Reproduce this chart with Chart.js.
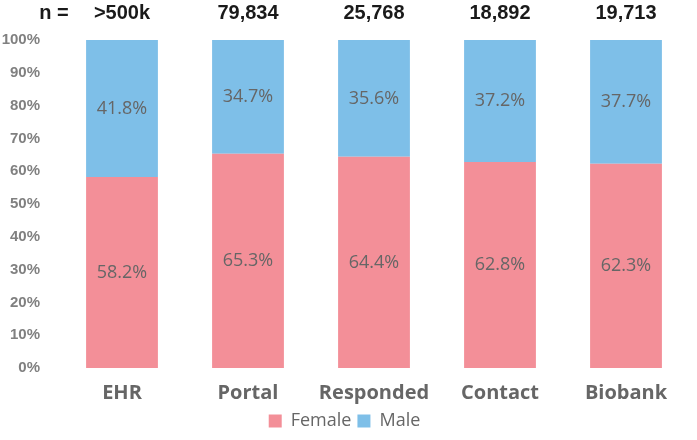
<!DOCTYPE html>
<html>
<head>
<meta charset="utf-8">
<script src="https://cdn.jsdelivr.net/npm/chart.js@4"></script>
<style>
  html, body { margin: 0; padding: 0; background: #fff; }
</style>
</head>
<body>
<canvas id="chart" width="697" height="440"></canvas>
<script>
const categories = ["EHR", "Portal", "Responded", "Contact", "Biobank"];
const counts = [">500k", "79,834", "25,768", "18,892", "19,713"];
const female = [58.2, 65.3, 64.4, 62.8, 62.3];
const male = [41.8, 34.7, 35.6, 37.2, 37.7];
const yTicks = [0, 10, 20, 30, 40, 50, 60, 70, 80, 90, 100];

// labels in the middle of each segment + the "n =" row on top
const labelPlugin = {
  id: 'labels',
  afterDatasetsDraw(chart) {
    const ctx = chart.ctx
    ctx.save()
    ctx.font = '18px "Open Sans", sans-serif'
    ctx.fillStyle = '#666666'
    ctx.textAlign = 'center'
    ctx.textBaseline = 'middle'
    chart.data.datasets.forEach((ds, di) => {
      chart.getDatasetMeta(di).data.forEach((bar, i) => {
        const p = bar.getProps(['x', 'y', 'base'], true)
        ctx.fillText(ds.data[i].toFixed(1) + '%', p.x, (p.y + p.base) / 2)
      })
    })
    // n row
    ctx.font = 'bold 20px "Liberation Sans", Arial, sans-serif'
    ctx.fillStyle = '#1a1a1a'
    ctx.fillText('n =', 54, 13)
    const xs = chart.scales.x
    counts.forEach((c, i) => {
      ctx.fillText(c, xs.getPixelForValue(i), 13)
    })
    ctx.restore()
  }
}

new Chart("chart", {
  type: "bar",
  data: {
    labels: categories,
    datasets: [{
      label: "Female",
      data: female,
      backgroundColor: "#F38F98",
      barPercentage: 0.57,
      categoryPercentage: 1
    },{
      label: "Male",
      data: male,
      backgroundColor: "#7EBFE8",
      barPercentage: 0.57,
      categoryPercentage: 1
    }]
  },
  options: {
    responsive: false,
    animation: false,
    devicePixelRatio: 1,
    layout: { padding: { top: 40, right: 8, left: 0, bottom: 0 } },
    plugins: {
      legend: {
        position: 'bottom',
        labels: {
          boxWidth: 13, boxHeight: 13, padding: 6,
          color: '#666666',
          font: { family: '"Open Sans", sans-serif', size: 18 }
        }
      },
      tooltip: { enabled: false }
    },
    scales: {
      x: {
        stacked: true,
        afterFit: s => { s.height = 38 },
        grid: { display: false, drawTicks: false },
        border: { display: false },
        ticks: {
          color: '#666666',
          padding: 13,
          maxRotation: 0,
          autoSkip: false,
          font: { family: '"Open Sans", sans-serif', size: 20, weight: 'bold' }
        }
      },
      y: {
        stacked: true,
        min: 0, max: 100,
        afterBuildTicks: s => { s.ticks = yTicks.map(v => ({ value: v })) },
        afterFit: s => { s.width = 59 },
        grid: { display: false, drawTicks: false },
        border: { display: false },
        ticks: {
          color: '#808080',
          padding: 19,
          autoSkip: false,
          callback: v => v + '%',
          font: { family: '"Liberation Sans", Arial, sans-serif', size: 15, weight: 'bold' }
        }
      }
    }
  },
  plugins: [labelPlugin]
});
</script>
</body>
</html>
